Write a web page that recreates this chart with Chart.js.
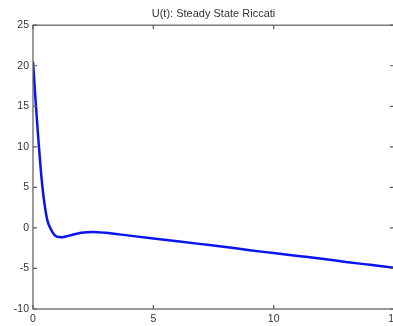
<!DOCTYPE html>
<html>
<head>
<meta charset="utf-8">
<script src="https://cdn.jsdelivr.net/npm/chart.js@4/dist/chart.umd.min.js"></script>
<style>
  html, body { margin: 0; padding: 0; background: #fff; overflow: hidden; }
  #wrap { width: 394px; height: 326px; }
</style>
</head>
<body>
<div id="wrap"><canvas id="myChart"></canvas></div>
<script>
// values
const tValues = [0, 0.1, 0.2, 0.3, 0.4, 0.5, 0.6, 0.7, 0.8, 0.9, 1.0, 1.2, 1.5, 2.0, 2.5, 3.0, 4.0, 5.0, 6.0, 7.0, 8.0, 9.0, 10, 11, 12, 13, 14, 15];
const uValues = [20.5, 16, 11.8, 8, 4.8, 2.5, 0.9, 0.1, -0.5, -0.9, -1.1, -1.15, -0.95, -0.6, -0.5, -0.6, -0.95, -1.3, -1.65, -2.0, -2.35, -2.75, -3.1, -3.45, -3.8, -4.2, -4.55, -4.9];
const xTicks = [0, 5, 10, 15];
const yTicks = [-10, -5, 0, 5, 10, 15, 20, 25];
const chartTitle = "U(t): Steady State Riccati";

// matlab style box with inward ticks on all four sides
const boxPlugin = {
	id: "boxPlugin",
	afterDatasetsDraw(chart) {
		const { ctx, chartArea: a, scales } = chart;
		ctx.save();
		ctx.strokeStyle = "#5a5a5a";
		ctx.lineWidth = 1.2;
		ctx.strokeRect(a.left, a.top, a.right - a.left, a.bottom - a.top);
		ctx.beginPath();
		xTicks.forEach((v) => {
			const x = scales.x.getPixelForValue(v);
			ctx.moveTo(x, a.bottom); ctx.lineTo(x, a.bottom - 4);
			ctx.moveTo(x, a.top); ctx.lineTo(x, a.top + 4);
		});
		yTicks.forEach((v) => {
			const y = scales.y.getPixelForValue(v);
			ctx.moveTo(a.left, y); ctx.lineTo(a.left + 4, y);
			ctx.moveTo(a.right, y); ctx.lineTo(a.right - 4, y);
		});
		ctx.stroke();
		ctx.restore();
	},
};

const points = tValues.map((t, i) => ({ x: t, y: uValues[i] }));

new Chart(document.getElementById("myChart").getContext("2d"), {
	type: "line",
	data: {
		datasets: [
			{
				data: points,
				borderColor: "#0a14f0",
				borderWidth: 2.5,
				pointRadius: 0,
				cubicInterpolationMode: "monotone",
				fill: false,
			},
		],
	},
	options: {
		responsive: true,
		maintainAspectRatio: false,
		animation: false,
		layout: { padding: 0 },
		plugins: {
			legend: { display: false },
			tooltip: { enabled: false },
			title: {
				display: true,
				text: chartTitle,
				fullSize: false,
				color: "#333",
				font: { family: "Liberation Sans, Arial", size: 11, weight: "normal" },
				padding: { top: 7, bottom: 5 },
			},
		},
		scales: {
			x: {
				type: "linear",
				min: 0,
				max: 15,
				grid: { display: false, drawTicks: false },
				border: { display: false },
				afterBuildTicks: (s) => { s.ticks = xTicks.map((v) => ({ value: v })); },
				ticks: { color: "#333", padding: 4, font: { family: "Liberation Sans, Arial", size: 10.5 } },
				afterFit: (s) => { s.height = 17; s.paddingLeft = 0; s.paddingRight = 0; },
			},
			y: {
				min: -10,
				max: 25,
				grid: { display: false, drawTicks: false },
				border: { display: false },
				afterBuildTicks: (s) => { s.ticks = yTicks.map((v) => ({ value: v })); },
				ticks: { color: "#333", padding: 4, font: { family: "Liberation Sans, Arial", size: 10.5 } },
				afterFit: (s) => { s.width = 33; s.paddingTop = 0; s.paddingBottom = 0; },
			},
		},
	},
	plugins: [boxPlugin],
});
</script>
</body>
</html>
